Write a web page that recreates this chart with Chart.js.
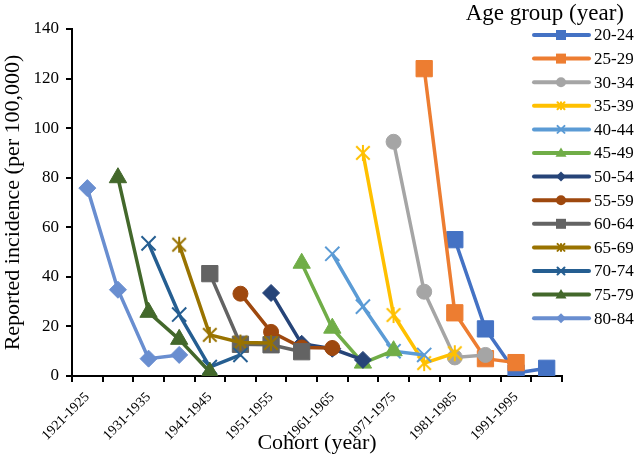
<!DOCTYPE html>
<html>
<head>
<meta charset="utf-8">
<script src="https://cdn.jsdelivr.net/npm/chart.js@4.4.0/dist/chart.umd.min.js"></script>
<style>
  html, body { margin: 0; padding: 0; background: #fff; }
  #wrap { width: 638px; height: 460px; }
</style>
</head>
<body>
<div id="wrap"><canvas id="chart"></canvas></div>
<script>
const cohorts = [
  "1921-1925", "1926-1930", "1931-1935", "1936-1940", "1941-1945", "1946-1950",
  "1951-1955", "1956-1960", "1961-1965", "1966-1970", "1971-1975", "1976-1980",
  "1981-1985", "1986-1990", "1991-1995", "1996-2000"
];
const ageGroups = ["20-24", "25-29", "30-34", "35-39", "40-44", "45-49", "50-54",
  "55-59", "60-64", "65-69", "70-74", "75-79", "80-84"];
const colors = ["#4472C4", "#ED7D31", "#A5A5A5", "#FFC000", "#5B9BD5", "#70AD47", "#264478",
  "#9E480E", "#636363", "#997300", "#255E91", "#43682B", "#698ED0"];
const markers = ["rect", "rect", "circle", "star", "crossRot", "triangle", "rectRot",
  "circle", "rect", "star", "crossRot", "triangle", "rectRot"];

// first cohort index of each age group
const firstCohort = [12, 11, 10, 9, 8, 7, 6, 5, 4, 3, 2, 1, 0];

const inc20_24 = [55, 19, 1.2, 3.1];
const inc25_29 = [124, 25.5, 7, 5.4];
const inc30_34 = [94.5, 34, 7.5, 8.5];
const inc35_39 = [90, 24.6, 5.2, 9.2];
const inc40_44 = [49.3, 28, 10, 8.5];
const inc45_49 = [45.5, 19.3, 5.2, 10.2];
const inc50_54 = [33.5, 13, 11, 6.5];
const inc55_59 = [33.2, 17.8, 11.5, 11.3];
const inc60_64 = [41.3, 12.8, 12.6, 9.8];
const inc65_69 = [53, 16.6, 13.5, 13.3];
const inc70_74 = [53.5, 24.8, 3.6, 8.5];
const inc75_79 = [80, 25.7, 14.8, 1.6];
const inc80_84 = [75.8, 34.8, 7, 8.5];

const incidence = [inc20_24, inc25_29, inc30_34, inc35_39, inc40_44, inc45_49, inc50_54,
  inc55_59, inc60_64, inc65_69, inc70_74, inc75_79, inc80_84];

const yTicks = [0, 20, 40, 60, 80, 100, 120, 140];

const SERIF = '"Liberation Serif", "Times New Roman", serif';

// Excel-style star marker: an X with a vertical bar
const starImage = (color, size, lw) => {
  const c = document.createElement("canvas");
  c.width = c.height = size;
  const g = c.getContext("2d");
  const m = size / 2, r = size / 2 - 1;
  g.strokeStyle = color;
  g.lineWidth = lw;
  g.beginPath();
  g.moveTo(m - r * 0.75, m - r * 0.75); g.lineTo(m + r * 0.75, m + r * 0.75);
  g.moveTo(m + r * 0.75, m - r * 0.75); g.lineTo(m - r * 0.75, m + r * 0.75);
  g.moveTo(m, m - r * 0.9); g.lineTo(m, m + r * 0.9);
  g.stroke();
  return c;
};

const pointSize = { rect: 11.5, circle: 7.5, crossRot: 10, triangle: 10, rectRot: 8.5, star: 9 };

const drawMarker = (ctx, style, x, y, r, color) => {
  ctx.save();
  ctx.fillStyle = color;
  ctx.strokeStyle = color;
  ctx.lineWidth = 2;
  ctx.beginPath();
  if (style === "rect") {
    ctx.rect(x - r, y - r, 2 * r, 2 * r); ctx.fill();
  } else if (style === "circle") {
    ctx.arc(x, y, r, 0, Math.PI * 2); ctx.fill();
  } else if (style === "triangle") {
    ctx.moveTo(x, y - r); ctx.lineTo(x + r, y + r * 0.7); ctx.lineTo(x - r, y + r * 0.7);
    ctx.closePath(); ctx.fill();
  } else if (style === "rectRot") {
    ctx.moveTo(x, y - r); ctx.lineTo(x + r, y); ctx.lineTo(x, y + r); ctx.lineTo(x - r, y);
    ctx.closePath(); ctx.fill();
  } else if (style === "crossRot") {
    ctx.moveTo(x - r, y - r); ctx.lineTo(x + r, y + r);
    ctx.moveTo(x + r, y - r); ctx.lineTo(x - r, y + r); ctx.stroke();
  } else if (style === "star") {
    ctx.moveTo(x - r, y - r); ctx.lineTo(x + r, y + r);
    ctx.moveTo(x + r, y - r); ctx.lineTo(x - r, y + r);
    ctx.moveTo(x, y - r); ctx.lineTo(x, y + r); ctx.stroke();
  }
  ctx.restore();
};

const datasets = ageGroups.map((label, i) => {
  const data = cohorts.map(() => null);
  incidence[i].forEach((v, k) => { data[firstCohort[i] + k] = v; });
  const style = markers[i];
  return {
    label,
    data,
    borderColor: colors[i],
    backgroundColor: colors[i],
    borderWidth: 3.5,
    pointStyle: style === "star" ? starImage(colors[i], 20, 2) : style,
    pointRadius: pointSize[style],
    pointBorderWidth: style === "crossRot" ? 2 : 1,
    pointBorderColor: colors[i],
    pointBackgroundColor: colors[i],
    order: -i,
    tension: 0,
  };
});

const legendPlugin = {
  id: "ageLegend",
  afterDraw(chart) {
    const ctx = chart.ctx;
    ctx.save();
    ctx.fillStyle = "#000";
    ctx.textBaseline = "middle";
    ctx.font = `23px ${SERIF}`;
    ctx.textAlign = "right";
    ctx.fillText("Age group (year)", 624, 14);
    ctx.font = `17px ${SERIF}`;
    ctx.textAlign = "left";
    ageGroups.forEach((label, i) => {
      const y = 35 + i * 23.6;
      ctx.strokeStyle = colors[i];
      ctx.lineWidth = 4;
      ctx.lineCap = "round";
      ctx.beginPath();
      ctx.moveTo(534, y);
      ctx.lineTo(589, y);
      ctx.stroke();
      const m = markers[i];
      const r = m === "triangle" ? 5.5 : 5;
      drawMarker(ctx, m, 561, y, m === "crossRot" || m === "star" ? 3.5 : r, colors[i]);
      ctx.fillStyle = "#000";
      ctx.fillText(label, 594, y + 1);
    });
    ctx.restore();
  },
};

new Chart(document.getElementById("chart"), {
  type: "line",
  data: { labels: cohorts, datasets },
  plugins: [legendPlugin],
  options: {
    responsive: true,
    maintainAspectRatio: false,
    animation: false,
    events: [],
    layout: { padding: { top: 29, right: 76, left: 0, bottom: 0 } },
    plugins: { legend: { display: false }, tooltip: { enabled: false } },
    scales: {
      x: {
        type: "category",
        offset: true,
        afterFit: (s) => { s.height = 84; },
        border: { display: true, color: "#000", width: 2 },
        grid: { offset: true, drawOnChartArea: false, drawTicks: true, tickLength: 6, color: "#000", lineWidth: 2 },
        ticks: {
          autoSkip: false,
          minRotation: 45,
          maxRotation: 45,
          padding: 7,
          color: "#000",
          font: { family: SERIF, size: 14 },
          callback: (v, i) => (i % 2 === 0 ? cohorts[i] : ""),
        },
        title: {
          display: true,
          text: "Cohort (year)",
          color: "#000",
          font: { family: SERIF, size: 22 },
          padding: { top: 0, bottom: 4 },
        },
      },
      y: {
        min: yTicks[0],
        max: yTicks[yTicks.length - 1],
        afterFit: (s) => { s.width = 72; },
        afterBuildTicks: (s) => { s.ticks = yTicks.map((v) => ({ value: v })); },
        border: { display: true, color: "#000", width: 2 },
        grid: { drawOnChartArea: false, drawTicks: true, tickLength: 6, color: "#000", lineWidth: 2 },
        ticks: { padding: 7, color: "#000", font: { family: SERIF, size: 17 } },
        title: {
          display: true,
          text: "Reported incidence (per 100,000)",
          color: "#000",
          font: { family: SERIF, size: 22 },
          padding: { top: 0, bottom: 0 },
        },
      },
    },
  },
});
</script>
</body>
</html>
